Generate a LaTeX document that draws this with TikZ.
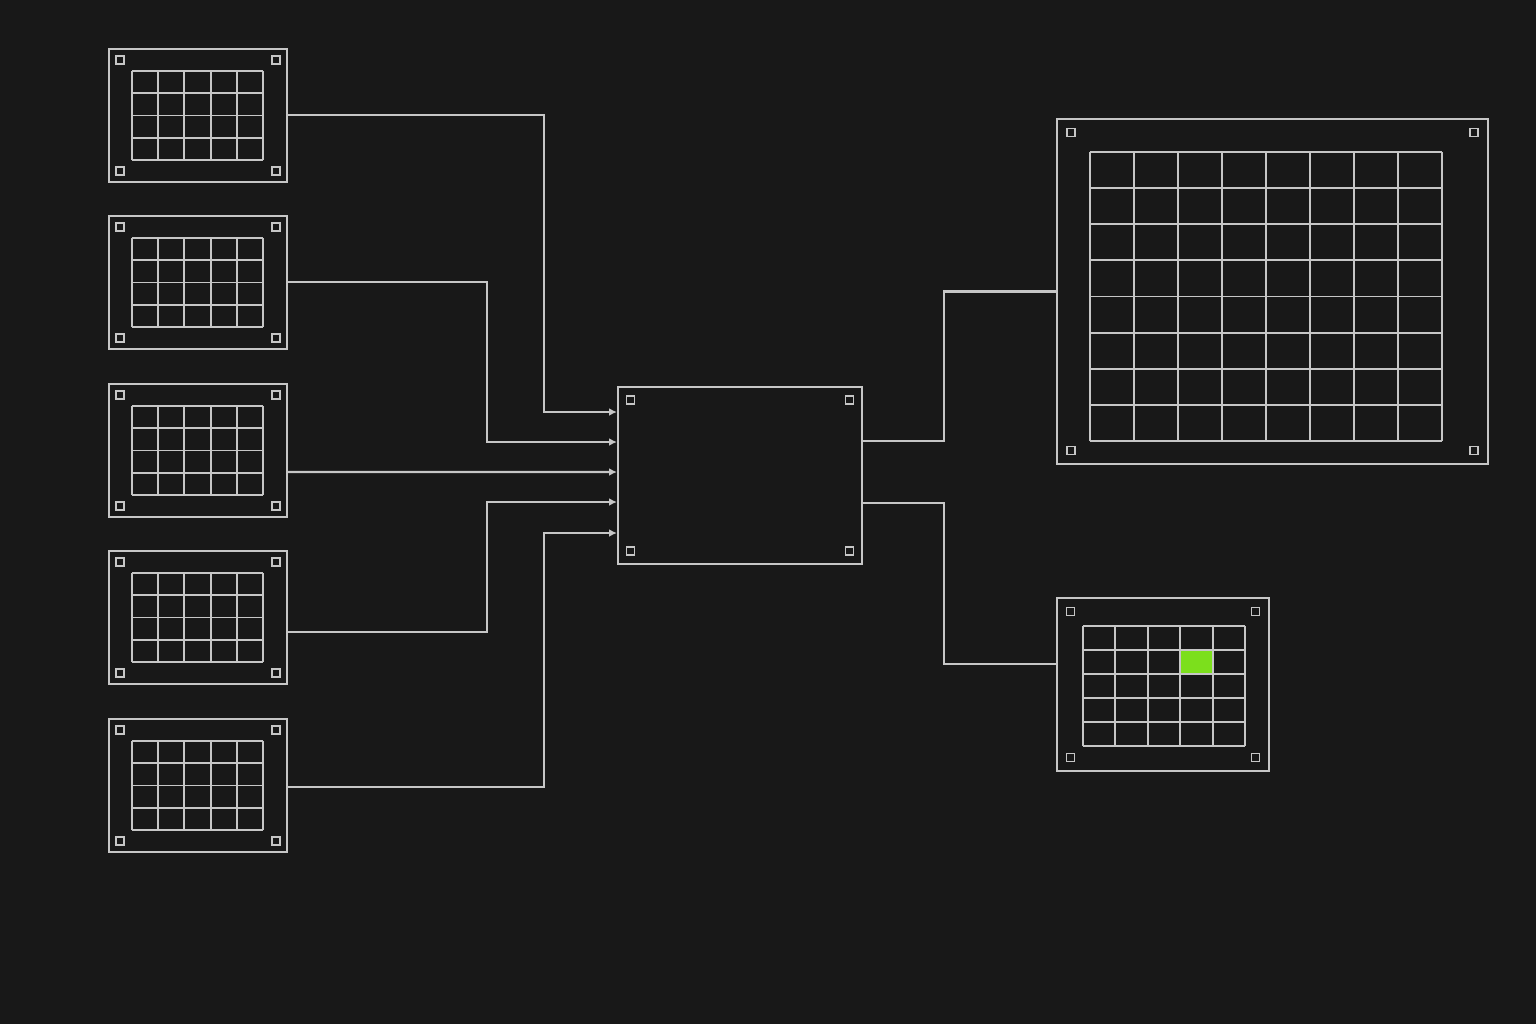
\documentclass[tikz,border=0pt]{standalone}
\usepackage{tikz}
\usetikzlibrary{calc,arrows.meta}

\definecolor{bggray}{HTML}{181818}
\definecolor{wiregray}{HTML}{C6C6C6}
\definecolor{cellgreen}{HTML}{7CDF1C}

\tikzset{
	panel/.style={draw=wiregray, line width=0.65pt, inner sep=0pt},
	wire/.style={draw=wiregray, line width=0.6pt},
	feed/.style={wire, -{Latex[length=2.2pt,width=2.2pt]}},
	cell/.style={draw=wiregray, line width=0.55pt},
	pin/.style={draw=wiregray, line width=0.55pt, minimum size=0.08cm, inner sep=0pt},
}

% four small squares in the corners of a panel
\newcommand{\pins}[3]{%
	\foreach \sx in {-1,1} {\foreach \sy in {-1,1} {
		\node[pin] at ($(#1.center)+(\sx*#2,\sy*#3)$) {};
	}}%
}

\begin{document}
\begin{tikzpicture}
	\fill[bggray] (0,0) rectangle (15.36,-10.24);
	\useasboundingbox (0,0) rectangle (15.36,-10.24);

	% input frames
	\node[panel, minimum width=1.78cm, minimum height=1.33cm] (in1) at (1.98, -1.155) {};
	\node[panel, minimum width=1.78cm, minimum height=1.33cm] (in2) at (1.98, -2.825) {};
	\node[panel, minimum width=1.78cm, minimum height=1.33cm] (in3) at (1.98, -4.505) {};
	\node[panel, minimum width=1.78cm, minimum height=1.33cm] (in4) at (1.98, -6.175) {};
	\node[panel, minimum width=1.78cm, minimum height=1.33cm] (in5) at (1.98, -7.855) {};
	\foreach \n in {1,...,5} {
		\draw[cell, shift={($(in\n.center)+(-0.66,-0.445)$)}, xstep=0.262, ystep=0.2225] (0,0) grid (1.311,0.891);
		\pins{in\n}{0.78}{0.555}
	}

	% centre block
	\node[panel, minimum width=2.44cm, minimum height=1.77cm] (core) at (7.40, -4.755) {};
	\pins{core}{1.095}{0.755}

	% large output frame
	\node[panel, minimum width=4.31cm, minimum height=3.45cm] (map) at (12.725, -2.915) {};
	\draw[cell, shift={($(map.center)+(-1.825,-1.495)$)}, xstep=0.44, ystep=0.36125] (0,0) grid (3.521,2.891);
	\pins{map}{2.015}{1.59}

	% small output frame with the chosen cell
	\node[panel, minimum width=2.12cm, minimum height=1.73cm] (pick) at (11.63, -6.845) {};
	\fill[cellgreen] ($(pick.center)+(0.172,0.105)$) rectangle ($(pick.center)+(0.496,0.345)$);
	\draw[cell, shift={($(pick.center)+(-0.80,-0.615)$)}, xstep=0.324, ystep=0.24] (0,0) grid (1.621,1.201);
	\pins{pick}{0.925}{0.73}

	% inputs into the block
	\draw[feed] ([yshift=0.005cm]in1.east) -- ++(2.56,0) |- ([yshift=0.635cm]core.west);
	\draw[feed] ([yshift=0.005cm]in2.east) -- ++(1.99,0) |- ([yshift=0.335cm]core.west);
	\draw[feed] ([yshift=-0.215cm]in3.east) -- ([yshift=0.035cm]core.west);
	\draw[feed] ([yshift=-0.145cm]in4.east) -- ++(1.99,0) |- ([yshift=-0.265cm]core.west);
	\draw[feed] ([yshift=-0.015cm]in5.east) -- ++(2.56,0) |- ([yshift=-0.575cm]core.west);

	% block to outputs
	\draw[wire] ([yshift=0.345cm]core.east) -- ++(0.81,0) |- (map.west);
	\draw[wire] ([yshift=-0.275cm]core.east) -- ++(0.81,0) |- ([yshift=0.205cm]pick.west);
\end{tikzpicture}
\end{document}
